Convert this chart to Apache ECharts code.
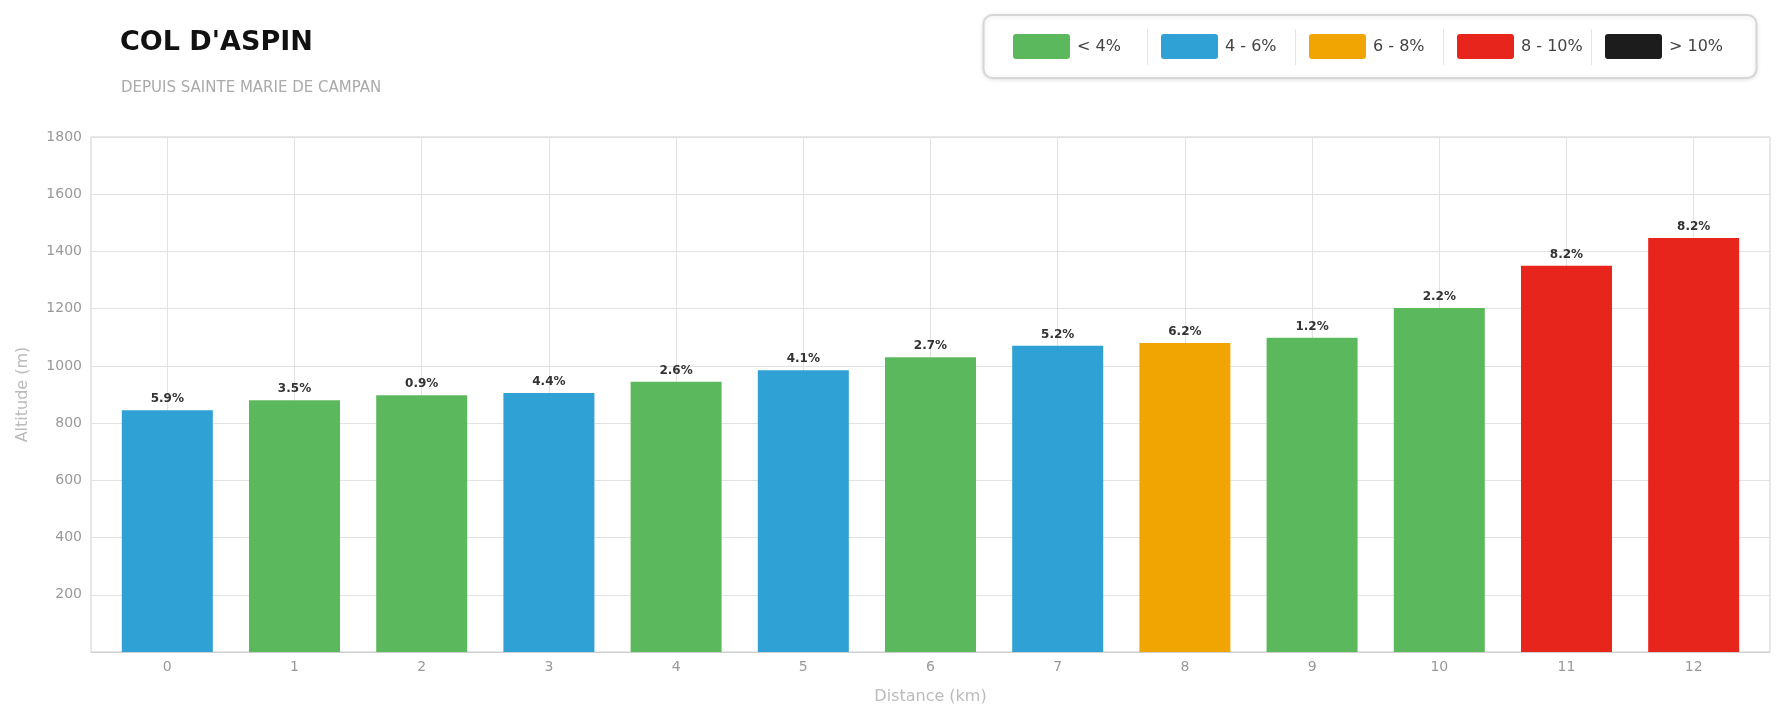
<!DOCTYPE html>
<html>
<head>
<meta charset="utf-8">
<title>Col d'Aspin</title>
<script src="https://cdn.jsdelivr.net/npm/echarts@6/dist/echarts.min.js"></script>
<style>
  html, body { margin: 0; padding: 0; background: #fff; }
  #chart { width: 1785px; height: 720px; }
</style>
</head>
<body>
<div id="chart"></div>
<script>
// profile data, one bar per km
const distances = [0, 1, 2, 3, 4, 5, 6, 7, 8, 9, 10, 11, 12];
const altitudes = [845, 880, 897, 905, 945, 985, 1030, 1070, 1080, 1098, 1202, 1350, 1447];
const grades = [5.9, 3.5, 0.9, 4.4, 2.6, 4.1, 2.7, 5.2, 6.2, 1.2, 2.2, 8.2, 8.2];

// gradient classes for the legend
const classNames = ['< 4%', '4 - 6%', '6 - 8%', '8 - 10%', '> 10%'];
const classLimits = [4, 6, 8, 10];
const classColors = ['#5cb85c', '#2fa1d4', '#f0a502', '#e8251d', '#1c1c1c'];

const FONT = 'DejaVu Sans';
const SWATCH = 'path://M3,0H54A3,3 0 0 1 57,3V22A3,3 0 0 1 54,25H3A3,3 0 0 1 0,22V3A3,3 0 0 1 3,0Z';

// legend box layout
const LEG_X = 983.5, LEG_Y = 15, LEG_W = 773, LEG_H = 63;
const CELL_X0 = 1013, CELL_W = 148;

function colorFor(grade) {
    let i = 0;
    while (i < classLimits.length && grade >= classLimits[i]) i++;
    return classColors[i];
}

document.addEventListener('DOMContentLoaded', function() {
    const chart = echarts.init(document.getElementById('chart'));

    const barData = distances.map(function(d, i) {
        return {
            value: [d, altitudes[i]],
            itemStyle: { color: colorFor(grades[i]) }
        };
    });

    // empty scatter series only feed the legend
    const legendSeries = classNames.map(function(name, i) {
        return {
            name: name,
            type: 'scatter',
            data: [],
            itemStyle: { color: classColors[i], opacity: 1 }
        };
    });

    // one legend per cell so every cell has the same width
    const legends = classNames.map(function(name, i) {
        return {
            data: [name],
            left: CELL_X0 + i * CELL_W,
            top: 34,
            padding: 0,
            itemWidth: 57,
            itemHeight: 25,
            icon: SWATCH,
            selectedMode: false,
            z: 10,
            textStyle: { fontFamily: FONT, fontSize: 16, color: '#444', padding: [0, 0, 0, 2] }
        };
    });

    const graphics = [{
        type: 'rect',
        shape: { x: LEG_X, y: LEG_Y, width: LEG_W, height: LEG_H, r: 9 },
        style: {
            fill: '#fff',
            stroke: '#d6d6d6',
            lineWidth: 2,
            shadowBlur: 4,
            shadowOffsetY: 1,
            shadowColor: 'rgba(0,0,0,0.10)'
        },
        z: 1
    }].concat([1, 2, 3, 4].map(function(i) {
        const x = Math.round(CELL_X0 + i * CELL_W - 14) + 0.5;
        return {
            type: 'line',
            shape: { x1: x, y1: 29, x2: x, y2: 65 },
            style: { stroke: '#e3e3e3', lineWidth: 1 },
            z: 2
        };
    }));

    const option = {
        animation: false,
        title: [
            {
                text: "COL D'ASPIN",
                left: 115,
                top: 24,
                textStyle: { fontFamily: FONT, fontSize: 27, fontWeight: 'bold', color: '#111' }
            },
            {
                text: 'DEPUIS SAINTE MARIE DE CAMPAN',
                left: 116,
                top: 76,
                textStyle: { fontFamily: FONT, fontSize: 15, fontWeight: 'normal', color: '#aaa' }
            }
        ],
        legend: legends,
        graphic: graphics,
        grid: {
            left: 91,
            right: 15,
            top: 137,
            bottom: 68,
            show: true,
            borderColor: '#cfcfcf',
            borderWidth: 1
        },
        xAxis: {
            type: 'value',
            min: -0.6,
            max: 12.6,
            name: 'Distance (km)',
            nameLocation: 'middle',
            nameGap: 37,
            nameTextStyle: { fontFamily: FONT, fontSize: 16, color: '#bbb' },
            axisLine: { show: true, lineStyle: { color: '#cfcfcf' } },
            axisTick: { show: false, customValues: distances },
            axisLabel: {
                customValues: distances,
                margin: 8,
                fontFamily: FONT,
                fontSize: 14,
                color: '#999'
            },
            splitLine: { show: true, customValues: distances, lineStyle: { color: '#e2e2e2' } }
        },
        yAxis: {
            type: 'value',
            min: 0,
            max: 1800,
            interval: 200,
            name: 'Altitude (m)',
            nameLocation: 'middle',
            nameGap: 60,
            nameTextStyle: { fontFamily: FONT, fontSize: 16, color: '#bbb' },
            axisLine: { show: false, onZero: false },
            axisTick: { show: false },
            axisLabel: {
                showMinLabel: false,
                margin: 9,
                fontFamily: FONT,
                fontSize: 14,
                color: '#999',
                formatter: function(v) { return String(v); }
            },
            splitLine: { show: true, lineStyle: { color: '#e2e2e2' } }
        },
        series: [
            {
                name: 'Altitude',
                type: 'bar',
                barWidth: 91,
                data: barData,
                label: {
                    show: true,
                    position: 'top',
                    distance: 5,
                    fontFamily: FONT,
                    fontSize: 12,
                    fontWeight: 'bold',
                    color: '#333',
                    formatter: function(p) {
                        return grades[p.dataIndex] + '%';
                    }
                }
            }
        ].concat(legendSeries)
    };

    chart.setOption(option);
});
</script>
</body>
</html>
